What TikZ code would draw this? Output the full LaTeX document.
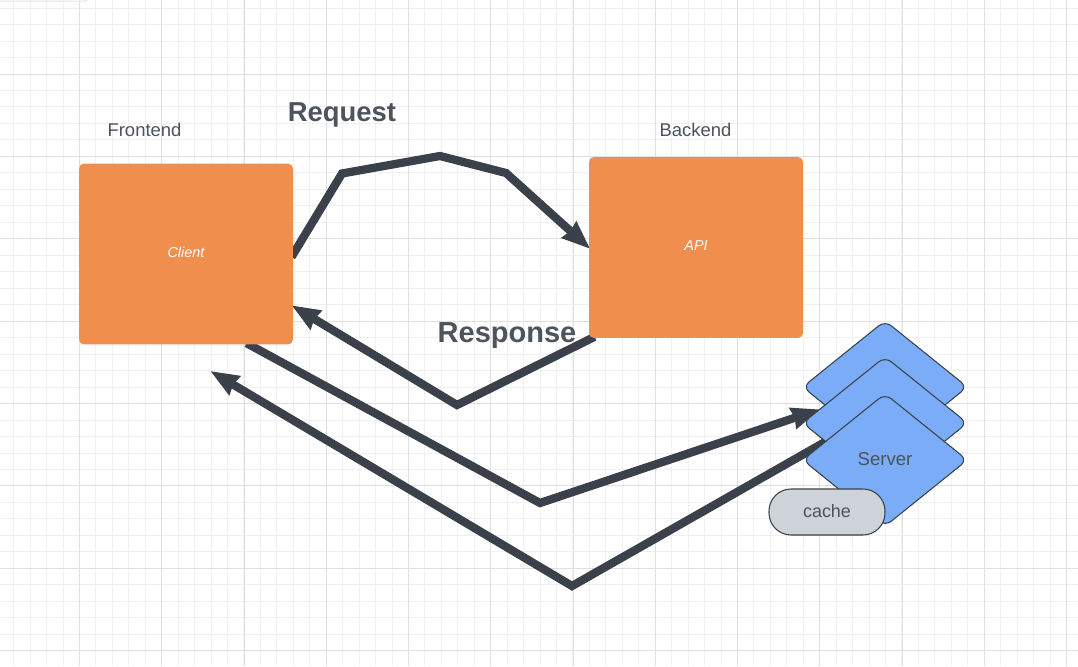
\documentclass[tikz,border=0pt]{standalone}
\usepackage{fontspec}
\setmainfont{Liberation Sans}
\usetikzlibrary{arrows.meta, shapes.geometric, backgrounds}
\definecolor{inkgray}{HTML}{3A414A}
\definecolor{textgray}{HTML}{4C535D}
\definecolor{boxorange}{HTML}{F08E4E}
\definecolor{serverblue}{HTML}{7AACF7}
\definecolor{cachegray}{HTML}{CED2D9}
\begin{document}
\begin{tikzpicture}[
    x=0.02cm, y=-0.02cm,
    minorline/.style={draw=black!6, line width=0.02cm},
    majorline/.style={draw=black!12, line width=0.02cm},
    service/.style={rectangle, fill=boxorange, rounded corners=0.1cm, minimum width=4.28cm, text depth=0.08cm, text=white, font=\fontsize{8.2}{10}\selectfont\itshape},
    server/.style={diamond, draw=inkgray, fill=serverblue, line width=0.6pt, rounded corners=0.16cm, aspect=1.24, minimum width=3.3cm, minimum height=2.66cm, inner sep=0pt, text depth=0.04cm, text=textgray, font=\fontsize{10.6}{12}\selectfont},
    cachebox/.style={rectangle, draw=inkgray, fill=cachegray, line width=0.6pt, rounded corners=0.44cm, minimum width=2.32cm, minimum height=0.92cm, text depth=0.04cm, text=textgray, font=\fontsize{10.2}{12}\selectfont},
    title/.style={text=textgray, font=\fontsize{10.5}{12}\selectfont},
    flowlabel/.style={text=inkgray!90!white},
    flow/.style={-{Stealth[length=0.56cm, width=0.42cm, inset=0.03cm]}, draw=inkgray, line width=0.165cm, miter limit=10, shorten <=-0.07cm, shorten >=-0.04cm},
]
\useasboundingbox (0,0) rectangle (1078,666);

% === Grid ===
\begin{pgfonlayer}{background}
\fill[white] (0,0) rectangle (1078,666);
\foreach \i in {-4,...,65} {
    \draw[minorline] ({floor(79.5+16.45*\i)+0.5},0) -- ({floor(79.5+16.45*\i)+0.5},666);
}
\foreach \i in {-4,...,40} {
    \draw[minorline] (0,{floor(74+16.48*\i)+0.5}) -- (1078,{floor(74+16.48*\i)+0.5});
}
\foreach \i in {0,...,12} {
    \draw[majorline] ({floor(79.5+82.25*\i)+0.5},0) -- ({floor(79.5+82.25*\i)+0.5},666);
}
\foreach \i in {0,...,7} {
    \draw[majorline] (0,{floor(74+82.4*\i)+0.5}) -- (1078,{floor(74+82.4*\i)+0.5});
}
\fill[white, draw=black!10, line width=0.02cm, rounded corners=0.06cm] (-10,-10) rectangle (88,1);
\end{pgfonlayer}

% === Boxes ===
\node[service, minimum height=3.62cm] (client) at (186,254) {Client};
\node[service, minimum height=3.62cm] (api) at (696,247.5) {API};
\node[title] (frontend) at (144.5,130) {Frontend};
\node[title] (backend) at (695.5,130) {Backend};

% === Servers ===
\node[server] (server1) at (885,387) {};
\node[server] (server2) at (885,423) {};
\node[server] (server3) at (885,460) {Server};
\node[cachebox] (cache) at (827,512) {cache};

% Bends of the connectors
\coordinate (r1) at (342,173.5);
\coordinate (r2) at (440,156);
\coordinate (r3) at (506,173);
\coordinate (b1) at (457,405);
\coordinate (c1) at (540,503);
\coordinate (d1) at (572,586);
\coordinate (d2) at (212,372);

% === Connectors ===
\begin{pgfonlayer}{background}
\draw[flow] (client.east) -- (r1) -- (r2) -- (r3) -- (api.west);
\draw[flow] (api.-139) -- (b1) -- (client.-26);
\draw[flow] (client.-55) -- (c1) -- (server2.169);
\draw[flow] (server3.165) -- (d1) -- (d2);
\end{pgfonlayer}

% Labels
\node[flowlabel, font=\fontsize{15.6}{18}\selectfont\bfseries] (request) at (342,115) {Request};
\node[flowlabel, font=\fontsize{16.5}{18}\selectfont\bfseries] (response) at (507,336) {Response};

\end{tikzpicture}
\end{document}
